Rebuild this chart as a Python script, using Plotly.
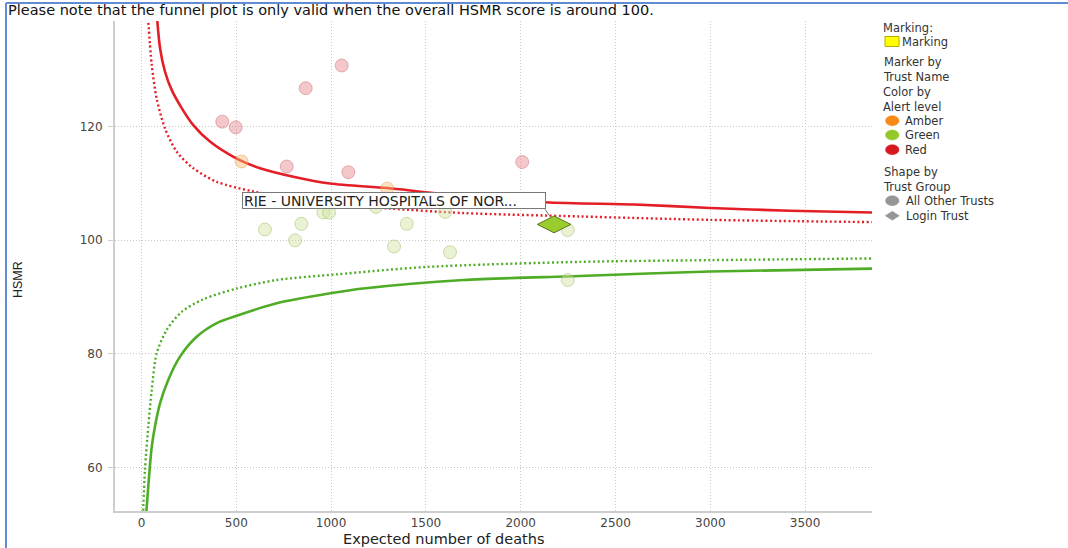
import plotly.graph_objects as go

# ---------------- data ----------------
# Funnel control limits (Expected deaths -> HSMR)
upper998_x = [80, 98, 124, 159, 212, 273, 361, 502, 625, 801, 994, 1296, 1550, 2128, 2600, 3000, 3420, 3853]
upper998_y = [140.0, 133.8, 129.7, 126.5, 123.3, 120.3, 117.4, 114.4, 112.7, 111.2, 110.0, 109.2, 108.3, 106.7, 106.3, 105.7, 105.2, 104.9]
upper95_x = [33, 54, 80, 124, 186, 273, 397, 590, 977, 1311, 1697, 2313, 3000, 3853]
upper95_y = [140.0, 130.9, 125.0, 119.7, 115.6, 112.7, 110.3, 108.6, 106.5, 105.6, 104.8, 104.2, 103.6, 103.2]
lower998_x = [24, 41, 54, 71, 98, 141, 203, 291, 397, 502, 713, 1003, 1170, 1697, 2313, 3000, 3853]
lower998_y = [51.5, 58.9, 63.6, 67.2, 71.3, 75.4, 79.5, 83.0, 85.4, 86.7, 88.9, 90.7, 91.5, 93.0, 93.7, 94.5, 95.0]
lower95_x = [8, 18, 36, 54, 80, 133, 212, 326, 502, 713, 1030, 1504, 2313, 3000, 3853]
lower95_y = [51.5, 59.5, 67.2, 73.6, 80.1, 84.2, 87.4, 89.6, 91.5, 93.0, 94.0, 95.3, 96.2, 96.5, 96.8]

# Trusts by alert level
red_x = [426, 497, 866, 1056, 766, 1091, 2008]
red_y = [120.9, 119.9, 126.8, 130.8, 113.0, 112.0, 113.8]
amber_x = [528, 1296]
amber_y = [113.9, 109.1]
green_x = [651, 810, 843, 959, 989, 1237, 1399, 1332, 1602, 1627, 2248, 2248]
green_y = [101.9, 100.0, 102.9, 104.9, 104.9, 105.9, 102.9, 98.9, 105.0, 97.9, 101.8, 93.0]

# Login trust
login_x = [2176]
login_y = [102.8]
login_label = "RJE - UNIVERSITY HOSPITALS OF NOR..."

x_ticks = [0, 500, 1000, 1500, 2000, 2500, 3000, 3500]
y_ticks = [60, 80, 100, 120]

title_text = "Please note that the funnel plot is only valid when the overall HSMR score is around 100."
x_title = "Expected number of deaths"
y_title = "HSMR"

# ---------------- layout geometry ----------------
W, H = 1068, 548
L, R, T, B = 115, 872, 21, 511
X_RANGE = [-139.8, 3852.8]
Y_RANGE = [52.3, 138.64]
FONT = "DejaVu Sans"


def px(x):
    return (x - L) / (R - L)


def py(y):
    return (B - y) / (B - T)


fig = go.Figure()

RED = "rgb(228,30,38)"
GREEN = "rgb(78,172,38)"

fig.add_trace(go.Scatter(x=upper998_x, y=upper998_y, mode="lines",
                         line=dict(color=RED, width=2.6, shape="spline", smoothing=0.8),
                         hoverinfo="skip", showlegend=False))
fig.add_trace(go.Scatter(x=upper95_x, y=upper95_y, mode="lines",
                         line=dict(color=RED, width=2.4, dash="2px,2.6px", shape="spline", smoothing=0.8),
                         hoverinfo="skip", showlegend=False))
fig.add_trace(go.Scatter(x=lower998_x, y=lower998_y, mode="lines",
                         line=dict(color=GREEN, width=2.6, shape="spline", smoothing=0.8),
                         hoverinfo="skip", showlegend=False))
fig.add_trace(go.Scatter(x=lower95_x, y=lower95_y, mode="lines",
                         line=dict(color=GREEN, width=2.4, dash="2px,2.6px", shape="spline", smoothing=0.8),
                         hoverinfo="skip", showlegend=False))

fig.add_trace(go.Scatter(x=red_x, y=red_y, mode="markers", name="Red",
                         marker=dict(symbol="circle", size=13, color="rgba(231,131,139,0.45)",
                                     line=dict(color="rgba(200,100,110,0.45)", width=1)),
                         showlegend=False))
fig.add_trace(go.Scatter(x=amber_x, y=amber_y, mode="markers", name="Amber",
                         marker=dict(symbol="circle", size=13, color="rgba(251,186,111,0.45)",
                                     line=dict(color="rgba(225,150,70,0.45)", width=1)),
                         showlegend=False))
fig.add_trace(go.Scatter(x=green_x, y=green_y, mode="markers", name="Green",
                         marker=dict(symbol="circle", size=13, color="rgba(208,226,159,0.45)",
                                     line=dict(color="rgba(150,180,90,0.45)", width=1)),
                         showlegend=False))
fig.add_trace(go.Scatter(x=login_x, y=login_y, mode="markers", name="Login Trust",
                         marker=dict(symbol="diamond-wide", size=24, color="rgb(153,204,44)",
                                     line=dict(color="rgb(90,120,30)", width=1)),
                         showlegend=False))

annotations = []
shapes = []

# data label for the login trust
annotations.append(dict(x=login_x[0], y=login_y[0], xref="x", yref="y", text=login_label,
                        showarrow=False, xanchor="right", yanchor="bottom", xshift=-8, yshift=15,
                        width=300, height=13, align="left", borderpad=1,
                        bgcolor="white", bordercolor="rgb(120,120,120)", borderwidth=1,
                        font=dict(family=FONT, size=14, color="#222")))
shapes.append(dict(type="line", xref="x", yref="y", xsizemode="pixel", ysizemode="pixel",
                   xanchor=login_x[0], yanchor=login_y[0], x0=-9, y0=15, x1=-4, y1=8,
                   line=dict(color="rgb(120,120,120)", width=1)))

# axis titles
annotations.append(dict(x=px(444), y=py(538.5), xref="paper", yref="paper", text=x_title,
                        showarrow=False, xanchor="center", yanchor="middle", borderpad=0,
                        font=dict(family=FONT, size=14.5, color="#222")))
annotations.append(dict(x=px(18), y=py(279), xref="paper", yref="paper", text=y_title,
                        showarrow=False, xanchor="center", yanchor="middle", textangle=-90,
                        font=dict(family="Liberation Sans, Arial", size=12.5, color="#222")))

# ---------------- legend (drawn manually) ----------------
LEG = 11.5
LCOL = "#333"


def leg_text(txt, x, y):
    annotations.append(dict(x=px(x), y=py(y), xref="paper", yref="paper", text=txt,
                            showarrow=False, xanchor="left", yanchor="middle", align="left",
                            borderpad=0, font=dict(family=FONT, size=LEG, color=LCOL)))


leg_text("Marking:", 882, 28)
shapes.append(dict(type="rect", xref="paper", yref="paper", x0=px(885), x1=px(899),
                   y0=py(46.5), y1=py(36.5), fillcolor="rgb(255,255,0)",
                   line=dict(color="rgb(190,170,0)", width=1)))
leg_text("Marking", 901, 42)
leg_text("Marker by<br>Trust Name", 882, 69.5)
leg_text("Color by<br>Alert level", 882, 99)

for name, col, yy in [("Amber", "rgb(247,137,20)", 120.7),
                      ("Green", "rgb(146,200,40)", 135.0),
                      ("Red", "rgb(215,25,30)", 149.7)]:
    shapes.append(dict(type="circle", xref="paper", yref="paper",
                       x0=px(885.5), x1=px(899), y0=py(yy + 5), y1=py(yy - 5),
                       fillcolor=col, line=dict(color=col, width=0.5)))
    leg_text(name, 904, yy)

leg_text("Shape by<br>Trust Group", 882, 179.5)
shapes.append(dict(type="circle", xref="paper", yref="paper",
                   x0=px(885.5), x1=px(899), y0=py(205.7), y1=py(195.7),
                   fillcolor="rgb(150,150,150)", line=dict(color="rgb(150,150,150)", width=0.5)))
leg_text("All Other Trusts", 905, 200.7)
cx, cy = 892.3, 215.7
shapes.append(dict(type="path", xref="paper", yref="paper",
                   path=f"M {px(cx-7)},{py(cy)} L {px(cx)},{py(cy-4.5)} L {px(cx+7)},{py(cy)} L {px(cx)},{py(cy+4.5)} Z",
                   fillcolor="rgb(150,150,150)", line=dict(color="rgb(150,150,150)", width=0.5)))
leg_text("Login Trust", 905, 215.7)

# outer blue frame (left and top edges)
BLUE = "rgb(95,140,210)"
shapes.append(dict(type="line", xref="paper", yref="paper", x0=px(6), x1=px(6), y0=py(3), y1=py(548),
                   line=dict(color=BLUE, width=2)))
shapes.append(dict(type="line", xref="paper", yref="paper", x0=px(6), x1=px(1068), y0=py(3), y1=py(3),
                   line=dict(color=BLUE, width=2)))

GRID = "rgb(200,200,200)"
fig.update_layout(
    width=W, height=H,
    margin=dict(l=L, r=W - R, t=T, b=H - B),
    paper_bgcolor="white", plot_bgcolor="white",
    showlegend=False,
    title=dict(text=title_text, x=8 / W, xanchor="left", xref="container",
               y=1 - 10 / H, yanchor="middle", yref="container",
               font=dict(family=FONT, size=14.5, color="#111")),
    xaxis=dict(range=X_RANGE, tickvals=x_ticks, ticktext=[str(v) for v in x_ticks],
               showgrid=True, gridcolor=GRID, griddash="1px,2px", gridwidth=1,
               zeroline=False, showline=True, linecolor="rgb(205,205,205)", linewidth=2,
               ticks="", tickfont=dict(family=FONT, size=12, color="#444")),
    yaxis=dict(range=Y_RANGE, tickvals=y_ticks, ticktext=[str(v) for v in y_ticks],
               showgrid=True, gridcolor=GRID, griddash="1px,2px", gridwidth=1,
               zeroline=False, showline=True, linecolor="rgb(205,205,205)", linewidth=2,
               ticks="outside", ticklen=5, tickcolor="rgb(205,205,205)", ticklabelstandoff=3,
               tickfont=dict(family=FONT, size=12, color="#444")),
    annotations=annotations,
    shapes=shapes,
    hovermode=False,
)

fig.write_html("out.html", config={"displayModeBar": False},
               post_script="document.body.style.margin='0px';")
